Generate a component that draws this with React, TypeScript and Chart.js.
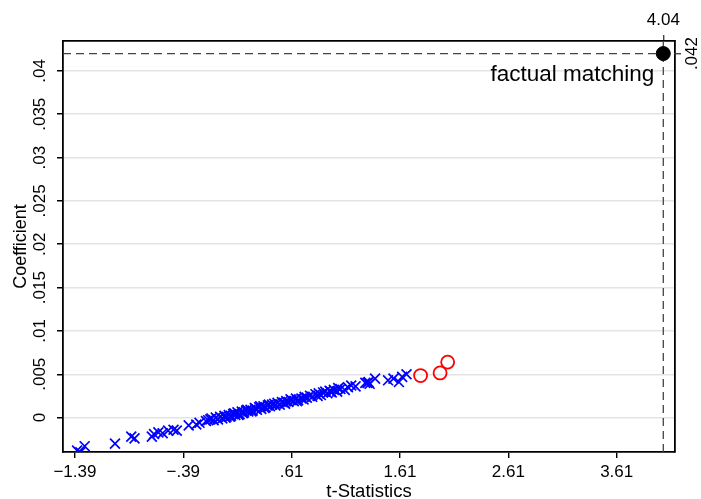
import React, { useEffect, useRef } from "react";
import { Chart, registerables } from "chart.js";
Chart.register(...registerables);

const FONT = '"Liberation Sans", Arial, sans-serif';

const xTicks = [-1.39, -0.39, 0.61, 1.61, 2.61, 3.61];
const yTicks = [0, 0.005, 0.01, 0.015, 0.02, 0.025, 0.03, 0.035, 0.04];
const topTicks = [4.04];
const rightTicks = [0.042];
const xRange = [-1.5, 4.148];
const yRange = [-0.00397, 0.04345];

const placeboT = [
  -1.37, -1.34, -1.3, -1.02, -0.87, -0.84, -0.68, -0.66, -0.62, -0.58, -0.53, -0.48, -0.45, -0.34, -0.27, -0.24,
  -0.16, -0.13, -0.11, -0.09, -0.07, -0.05, -0.03, -0.01, 0.01, 0.03, 0.05, 0.07, 0.09, 0.11, 0.13, 0.15,
  0.17, 0.19, 0.21, 0.23, 0.25, 0.27, 0.29, 0.31, 0.33, 0.35, 0.37, 0.39, 0.41, 0.43, 0.46, 0.48,
  0.5, 0.52, 0.54, 0.56, 0.58, 0.61, 0.63, 0.65, 0.67, 0.7, 0.72, 0.75, 0.78, 0.8, 0.83, 0.86,
  0.88, 0.9, 0.92, 0.94, 0.96, 0.98, 1.0, 1.03, 1.06, 1.1,
  1.13, 1.16, 1.2, 1.29, 1.32, 1.33, 1.38, 1.5, 1.55, 1.6, 1.63, 1.67,
  -0.18, -0.14, 0.0, 0.04, 0.08, 0.12, 0.16, 0.2, 0.24, 0.28, 0.32, 0.36, 0.4, 0.45, 0.55, 0.6,
  0.66, 0.73, 0.85, 0.97, 1.04, 1.31,
];
const placeboCoef = [
  -0.0038, -0.004, -0.0033, -0.003, -0.0022, -0.0024, -0.0022, -0.0019, -0.0017, -0.0018, -0.0015, -0.0014, -0.0015, -0.0009, -0.0008, -0.0006,
  -0.0003, -0.0001, -0.0003, 0.0, -0.0002, 0.0001, -0.0001, 0.0002, 0.0001, 0.0003, 0.0002, 0.0004, 0.0003, 0.0006, 0.0004, 0.0007,
  0.0006, 0.0008, 0.0007, 0.0009, 0.0008, 0.0011, 0.0009, 0.0012, 0.001, 0.0013, 0.0012, 0.0014, 0.0013, 0.0015, 0.0014, 0.0017,
  0.0015, 0.0018, 0.0017, 0.0019, 0.0018, 0.002, 0.0019, 0.0022, 0.002, 0.0022, 0.0021, 0.0023, 0.0025, 0.0024, 0.0027, 0.0028,
  0.0026, 0.0029, 0.003, 0.0028, 0.0031, 0.0029, 0.0032, 0.003, 0.0033, 0.0032,
  0.0035, 0.0037, 0.0036, 0.004, 0.0041, 0.0039, 0.0045, 0.0043, 0.0045, 0.0041, 0.0047, 0.005,
  -0.0004, -0.0002, 0.0, 0.0001, 0.0005, 0.0003, 0.0005, 0.0009, 0.0007, 0.001, 0.0013, 0.0011, 0.0015, 0.0016, 0.0016, 0.0021,
  0.0019, 0.0024, 0.0025, 0.003, 0.0034, 0.004,
];
const signifT = [1.8, 1.98, 2.05];
const signifCoef = [0.00485, 0.00515, 0.0064];
const factualT = [4.04];
const factualCoef = [0.042];
const factualLabel = "factual matching";
const xTitle = "t-Statistics";
const yTitle = "Coefficient";

function fmt(v: number): string {
  let s = String(+v.toFixed(4));
  s = s.replace(/^(-?)0\./, "$1.");
  return s.replace("-", "\u2212");
}

const zip = (xs: number[], ys: number[]) => xs.map((x, i) => ({ x, y: ys[i] }));

const labelPlugin = {
  id: "stataLabels",
  afterDraw(chart: any) {
    const ctx = chart.ctx as CanvasRenderingContext2D;
    const { x, y } = chart.scales;
    const a = chart.chartArea;
    ctx.save();
    ctx.fillStyle = "#000";
    ctx.font = `17px ${FONT}`;
    ctx.textBaseline = "alphabetic";
    ctx.textAlign = "center";
    for (const v of xTicks) {
      ctx.fillText(fmt(v), x.getPixelForValue(v), a.bottom + 25);
    }
    for (const v of topTicks) {
      ctx.fillText(fmt(v), x.getPixelForValue(v), a.top - 16);
    }
    for (const v of yTicks) {
      ctx.save();
      ctx.translate(a.left - 18, y.getPixelForValue(v));
      ctx.rotate(-Math.PI / 2);
      ctx.fillText(fmt(v), 0, 0);
      ctx.restore();
    }
    for (const v of rightTicks) {
      ctx.save();
      ctx.translate(a.right + 22, y.getPixelForValue(v));
      ctx.rotate(-Math.PI / 2);
      ctx.fillText(fmt(v), 0, 0);
      ctx.restore();
    }
    ctx.font = `18.5px ${FONT}`;
    ctx.fillText(xTitle, (a.left + a.right) / 2, a.bottom + 45);
    ctx.save();
    ctx.translate(a.left - 37, (a.top + a.bottom) / 2);
    ctx.rotate(-Math.PI / 2);
    ctx.font = `18px ${FONT}`;
    ctx.fillText(yTitle, 0, 0);
    ctx.restore();
    ctx.font = `22.5px ${FONT}`;
    ctx.textAlign = "right";
    ctx.fillText(factualLabel, x.getPixelForValue(factualT[0]) - 9, y.getPixelForValue(factualCoef[0]) + 27);
    ctx.restore();
  },
};

export default function App() {
  const ref = useRef<HTMLCanvasElement>(null);
  useEffect(() => {
    document.body.style.margin = "0";
    const canvas = ref.current!;
    const tickGrid = { drawOnChartArea: false, drawTicks: true, tickLength: 6, tickColor: "#000", lineWidth: 1.4 };
    const border = { display: true, color: "#000", width: 1.8 };
    const chart = new Chart(canvas, {
      type: "scatter",
      data: {
        datasets: [
          {
            data: zip(factualT, factualCoef),
            pointStyle: "circle",
            pointRadius: 7,
            backgroundColor: "#000",
            borderColor: "#000",
            borderWidth: 1,
          },
          {
            data: zip(signifT, signifCoef),
            pointStyle: "circle",
            pointRadius: 6.5,
            backgroundColor: "rgba(0,0,0,0)",
            borderColor: "#ff0000",
            borderWidth: 1.8,
          },
          {
            data: zip(placeboT, placeboCoef),
            pointStyle: "crossRot",
            pointRadius: 7,
            borderColor: "#0000ff",
            backgroundColor: "#0000ff",
            borderWidth: 1.7,
          },
          {
            data: [
              { x: xRange[0], y: factualCoef[0] },
              { x: xRange[1], y: factualCoef[0] },
            ],
            showLine: true,
            pointRadius: 0,
            borderColor: "#444",
            borderWidth: 1.3,
            borderDash: [8, 5],
          },
          {
            data: [
              { x: factualT[0], y: yRange[0] },
              { x: factualT[0], y: yRange[1] },
            ],
            showLine: true,
            pointRadius: 0,
            borderColor: "#444",
            borderWidth: 1.3,
            borderDash: [8, 5],
          },
        ],
      },
      options: {
        animation: false,
        responsive: false,
        maintainAspectRatio: false,
        layout: { padding: { left: 57, right: 20, top: 35, bottom: 41 } },
        plugins: { legend: { display: false }, tooltip: { enabled: false } },
        scales: {
          x: {
            type: "linear",
            position: "bottom",
            min: xRange[0],
            max: xRange[1],
            afterBuildTicks: (s: any) => {
              s.ticks = xTicks.map((value) => ({ value }));
            },
            ticks: { display: false },
            grid: tickGrid,
            border,
          },
          x2: {
            type: "linear",
            position: "top",
            min: xRange[0],
            max: xRange[1],
            afterBuildTicks: (s: any) => {
              s.ticks = topTicks.map((value) => ({ value }));
            },
            ticks: { display: false },
            grid: { ...tickGrid, tickColor: "#444" },
            border,
          },
          y: {
            type: "linear",
            position: "left",
            min: yRange[0],
            max: yRange[1],
            afterBuildTicks: (s: any) => {
              s.ticks = yTicks.map((value) => ({ value }));
            },
            ticks: { display: false },
            grid: {
              drawOnChartArea: true,
              drawTicks: true,
              tickLength: 6,
              tickColor: "#000",
              color: "#e4e4e4",
              lineWidth: 1.5,
            },
            border,
          },
          y2: {
            type: "linear",
            position: "right",
            min: yRange[0],
            max: yRange[1],
            afterBuildTicks: (s: any) => {
              s.ticks = rightTicks.map((value) => ({ value }));
            },
            ticks: { display: false },
            grid: { ...tickGrid, tickColor: "#444" },
            border,
          },
        },
      } as any,
      plugins: [labelPlugin],
    });
    return () => chart.destroy();
  }, []);
  return (
    <div style={{ width: 701, height: 499 }}>
      <canvas ref={ref} width={701} height={499} style={{ display: "block" }} />
    </div>
  );
}
